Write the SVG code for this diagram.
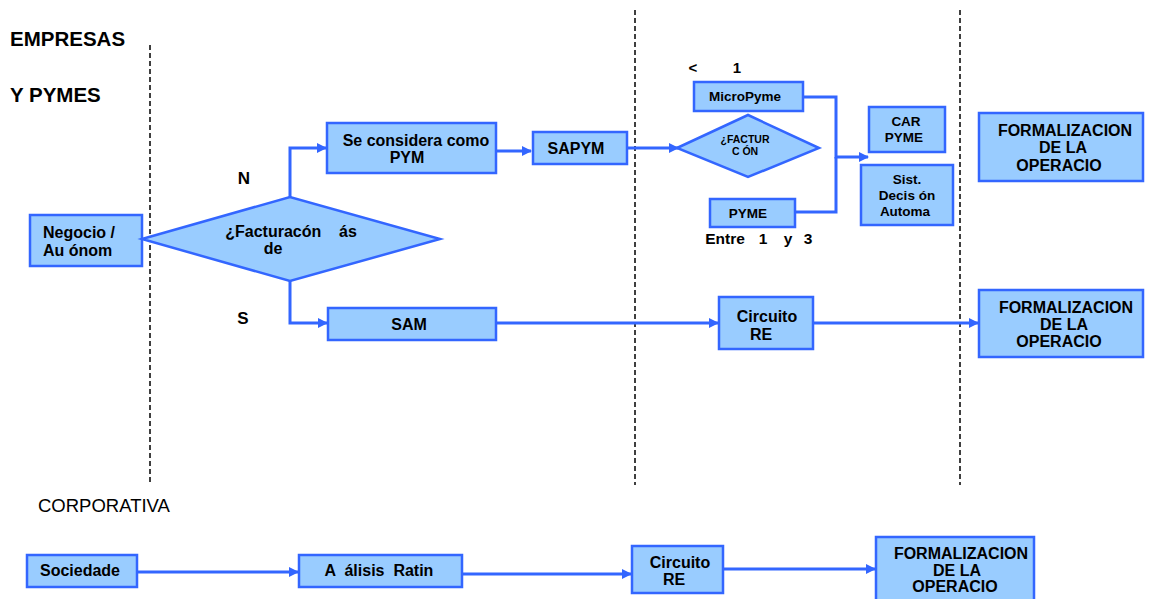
<svg xmlns="http://www.w3.org/2000/svg" width="1149" height="599" viewBox="0 0 1149 599">
<style>
.b{fill:#99CCFF;stroke:#3366FF;stroke-width:2.5}
.t{font-family:"Liberation Sans",Arial,sans-serif;font-weight:bold;font-size:16px;fill:#000;text-anchor:middle}
.s{font-size:13.5px}
.h{font-family:"Liberation Sans",Arial,sans-serif;font-weight:bold;font-size:20.5px;fill:#000}
.c{fill:none;stroke:#3366FF;stroke-width:3}
.d{fill:none;stroke:#000;stroke-width:1.5;stroke-dasharray:5,3}
</style>
<defs>
<marker id="a" markerWidth="10" markerHeight="10" refX="9" refY="5" orient="auto" markerUnits="userSpaceOnUse"><path d="M0,0 L10,5 L0,10 Z" fill="#3366FF"/></marker>
</defs>
<rect width="1149" height="599" fill="#fff"/>
<g id="lanes">
<line class="d" x1="150" y1="45" x2="150" y2="485"/>
<line class="d" x1="635" y1="10" x2="635" y2="485"/>
<line class="d" x1="960" y1="10" x2="960" y2="485"/>
</g>
<g id="labels">
<text class="h" x="10" y="46">EMPRESAS</text>
<text class="h" x="10" y="102">Y PYMES</text>
<text class="t" x="244" y="184" style="font-size:17px">N</text>
<text class="t" x="243" y="324" style="font-size:17px">S</text>
<text class="t" x="693" y="73" style="font-size:15px">&lt;</text>
<text class="t" x="737" y="73" style="font-size:15px">1</text>
<text class="t" x="725" y="244" style="font-size:15.5px">Entre</text>
<text class="t" x="763" y="244" style="font-size:15.5px">1</text>
<text class="t" x="788" y="244" style="font-size:15.5px">y</text>
<text class="t" x="808" y="244" style="font-size:15.5px">3</text>
<text x="38" y="512" style="font-family:'Liberation Sans',Arial,sans-serif;font-size:18.5px;fill:#000">CORPORATIVA</text>
</g>
<g id="connectors">
<polyline class="c" points="290,197 290,148 326,148" marker-end="url(#a)"/>
<line class="c" x1="496" y1="151" x2="531" y2="151" marker-end="url(#a)"/>
<line class="c" x1="627" y1="148" x2="678" y2="148" marker-end="url(#a)"/>
<polyline class="c" points="803,97 836,97 836,157 868,157" marker-end="url(#a)"/>
<polyline class="c" points="795,212 836,212 836,157"/>
<polyline class="c" points="290,281 290,323 327,323" marker-end="url(#a)"/>
<line class="c" x1="496" y1="323" x2="718" y2="323" marker-end="url(#a)"/>
<line class="c" x1="813" y1="323" x2="978" y2="323" marker-end="url(#a)"/>
<line class="c" x1="137" y1="572" x2="298" y2="572" marker-end="url(#a)"/>
<line class="c" x1="462" y1="574" x2="631" y2="574" marker-end="url(#a)"/>
<line class="c" x1="723" y1="569" x2="875" y2="569" marker-end="url(#a)"/>
</g>
<g id="negocio"><rect class="b" x="30" y="215" width="112" height="51"/><text class="t" x="43" y="238" style="text-anchor:start">Negocio /</text><text class="t" x="43" y="256" style="text-anchor:start">Au ónom</text></g>
<g id="facturacion"><polygon class="b" points="142,239 290,197 440,239 290,281"/><text class="t" x="291" y="237" xml:space="preserve">¿Facturacón    ás</text><text class="t" x="273" y="254">de</text></g>
<g id="seconsidera"><rect class="b" x="327" y="123" width="169" height="50"/><text class="t" x="416" y="146">Se considera como</text><text class="t" x="407" y="163">PYM</text></g>
<g id="sapym"><rect class="b" x="533" y="132" width="94" height="32"/><text class="t" x="576" y="154">SAPYM</text></g>
<g id="micropyme"><rect class="b" x="694" y="82" width="109" height="29"/><text class="t s" x="745" y="101">MicroPyme</text></g>
<g id="factur2"><polygon class="b" points="677,148 748,115 819,148 748,177"/><text class="t" x="745" y="143" style="font-size:10.5px">¿FACTUR</text><text class="t" x="745" y="155" style="font-size:10.5px">C ÓN</text></g>
<g id="pyme"><rect class="b" x="710" y="199" width="85" height="28"/><text class="t s" x="748" y="218">PYME</text></g>
<g id="carpyme"><rect class="b" x="869" y="107" width="76" height="45"/><text class="t s" x="906" y="126">CAR</text><text class="t s" x="904" y="142">PYME</text></g>
<g id="sist"><rect class="b" x="861" y="165" width="92" height="60"/><text class="t s" x="907" y="184">Sist.</text><text class="t s" x="907" y="200">Decis ón</text><text class="t s" x="905" y="216">Automa</text></g>
<g id="formal1"><rect class="b" x="979" y="113" width="164" height="68"/><text class="t" x="1065" y="136">FORMALIZACION</text><text class="t" x="1063" y="153">DE LA</text><text class="t" x="1059" y="171">OPERACIO</text></g>
<g id="sam"><rect class="b" x="328" y="308" width="168" height="32"/><text class="t" x="409" y="330">SAM</text></g>
<g id="circuito1"><rect class="b" x="719" y="297" width="94" height="52"/><text class="t" x="767" y="322">Circuito</text><text class="t" x="761" y="340">RE</text></g>
<g id="formal2"><rect class="b" x="979" y="290" width="164" height="67"/><text class="t" x="1066" y="313">FORMALIZACION</text><text class="t" x="1064" y="330">DE LA</text><text class="t" x="1059" y="347">OPERACIO</text></g>
<g id="sociedade"><rect class="b" x="27" y="555" width="110" height="32"/><text class="t" x="80" y="576">Sociedade</text></g>
<g id="analisis"><rect class="b" x="299" y="555" width="163" height="32"/><text class="t" x="379" y="576" xml:space="preserve">A  álisis  Ratin</text></g>
<g id="circuito2"><rect class="b" x="632" y="546" width="91" height="47"/><text class="t" x="680" y="568">Circuito</text><text class="t" x="674" y="585">RE</text></g>
<g id="formal3"><rect class="b" x="876" y="537" width="158" height="66"/><text class="t" x="961" y="559">FORMALIZACION</text><text class="t" x="957" y="576">DE LA</text><text class="t" x="955" y="592">OPERACIO</text></g>
</svg>
